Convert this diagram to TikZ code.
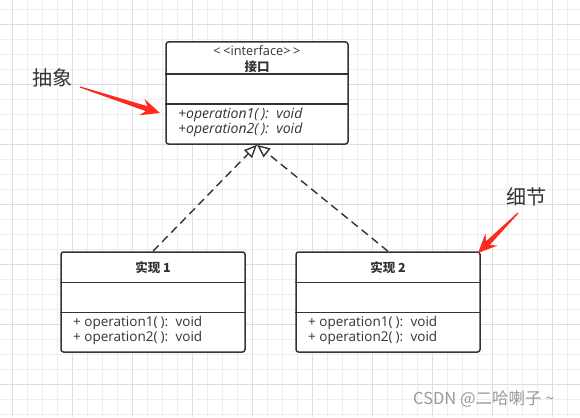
\documentclass[tikz,border=0pt]{standalone}
\usepackage{fontspec}
\setmainfont{Open Sans}
\newfontfamily\cjk{Noto Sans CJK SC}
\usetikzlibrary{arrows.meta,calc}
\definecolor{ink}{HTML}{333333}
\definecolor{gridminor}{HTML}{EDEDED}
\definecolor{gridmajor}{HTML}{DDDDDD}
\definecolor{arrowred}{HTML}{FF2A1E}
\definecolor{wmgray}{HTML}{999999}
\newcommand{\taperarrow}[2]{%
  \path (#2) coordinate (tipP) ($(#2)!14pt!(#1)$) coordinate (shaftP) ($(#2)!19pt!(#1)$) coordinate (barbP);
  \fill[arrowred] ($(#1)!0.6pt!90:(#2)$) -- ($(shaftP)!2.6pt!90:(#2)$) -- ($(barbP)!8.5pt!90:(#2)$) -- (tipP)
    -- ($(barbP)!8.5pt!-90:(#2)$) -- ($(shaftP)!2.6pt!-90:(#2)$) -- ($(#1)!0.6pt!-90:(#2)$) -- cycle;}
\newcommand{\opsig}[2]{#1operation#2(\hspace{3pt}):\hspace{7.5pt}void}
\tikzset{
  classbox/.style={draw=ink, line width=1.5pt, rounded corners=2.5pt, fill=white, inner sep=0pt,
    minimum width=184pt, minimum height=100pt},
  divider/.style={draw=ink, line width=1.5pt},
  title/.style={font=\cjk\bfseries\fontsize{12.5}{14}\selectfont, text=ink, inner sep=0pt},
  stereo/.style={font=\fontsize{12.8}{14}\selectfont, text=ink, inner sep=0pt},
  method/.style={font=\fontsize{13.5}{14}\selectfont, text=ink, anchor=west, inner sep=0pt},
  imethod/.style={font=\itshape\fontsize{14}{15}\selectfont, text=ink, anchor=west, inner sep=0pt},
  realize/.style={draw=ink, line width=1.4pt, dash pattern=on 8pt off 5pt,
    -{Triangle[open, length=13pt, width=11pt, fill=white]}},
  note/.style={font=\cjk\fontsize{20}{22}\selectfont, text=ink, inner sep=0pt},
}
\begin{document}
\begin{tikzpicture}[x=1pt,y=-1pt]
\useasboundingbox (0,0) rectangle (580,417);
\fill[white] (0,0) rectangle (580,417);
% grid
\foreach \k in {0,...,37}{
  \pgfmathtruncatemacro{\m}{mod(\k,4)}
  \ifnum\m=0 \def\gc{gridmajor}\else\def\gc{gridminor}\fi
  \draw[\gc, line width=0.9pt] (12+15*\k,0) -- (12+15*\k,417);
}
\foreach \k in {0,...,27}{
  \pgfmathtruncatemacro{\m}{mod(\k,4)}
  \ifnum\m=1 \def\gc{gridmajor}\else\def\gc{gridminor}\fi
  \draw[\gc, line width=0.9pt] (0,9+15*\k) -- (580,9+15*\k);
}
% interface box
\node[classbox, minimum width=182pt, minimum height=102pt] (iface) at (257,93) {};
\draw[divider] ($(iface.north west)+(0,33)$) -- ($(iface.north east)+(0,33)$);
\draw[divider] ($(iface.north west)+(0,63)$) -- ($(iface.north east)+(0,63)$);
\node[stereo] (ister) at (257,51) {\textless\hspace{2.5pt}\textless interface\textgreater\hspace{2.5pt}\textgreater};
\node[title] (iname) at (257,67) {接口};
\node[imethod] (im1) at (178,115) {\opsig{+}{1}};
\node[imethod] (im2) at (178,130) {\opsig{+}{2}};
% implementation 1
\node[classbox] (impA) at (153,302) {};
\draw[divider] ($(impA.north west)+(0,31)$) -- ($(impA.north east)+(0,31)$);
\draw[divider] ($(impA.north west)+(0,61)$) -- ($(impA.north east)+(0,61)$);
\node[title] (anameA) at (153,268) {实现 1};
\node[method] (am1) at (73,323) {\opsig{+ }{1}};
\node[method] (am2) at (73,338) {\opsig{+ }{2}};
% implementation 2
\node[classbox] (impB) at (388,302) {};
\draw[divider] ($(impB.north west)+(0,31)$) -- ($(impB.north east)+(0,31)$);
\draw[divider] ($(impB.north west)+(0,61)$) -- ($(impB.north east)+(0,61)$);
\node[title] (anameB) at (388,268) {实现 2};
\node[method] (bm1) at (308,323) {\opsig{+ }{1}};
\node[method] (bm2) at (308,338) {\opsig{+ }{2}};
% realization arrows
\draw[realize] (impA.north) -- (iface.south);
\draw[realize] (impB.north) -- (iface.south);
% notes
\node[note] (abs) at (52,78) {抽象};
\node[note] (det) at (526,197) {细节};
\coordinate (absS) at (80,87);
\coordinate (absT) at (160,113);
\coordinate (detS) at (518,213);
\coordinate (detT) at (478,253);
\taperarrow{absS}{absT}
\taperarrow{detS}{detT}
% watermark
\node[font=\cjk\fontsize{16.5}{18}\selectfont, text=wmgray, anchor=west, inner sep=0pt] (wm) at (413,399) {CSDN @二哈喇子 \textasciitilde};
\end{tikzpicture}
\end{document}
